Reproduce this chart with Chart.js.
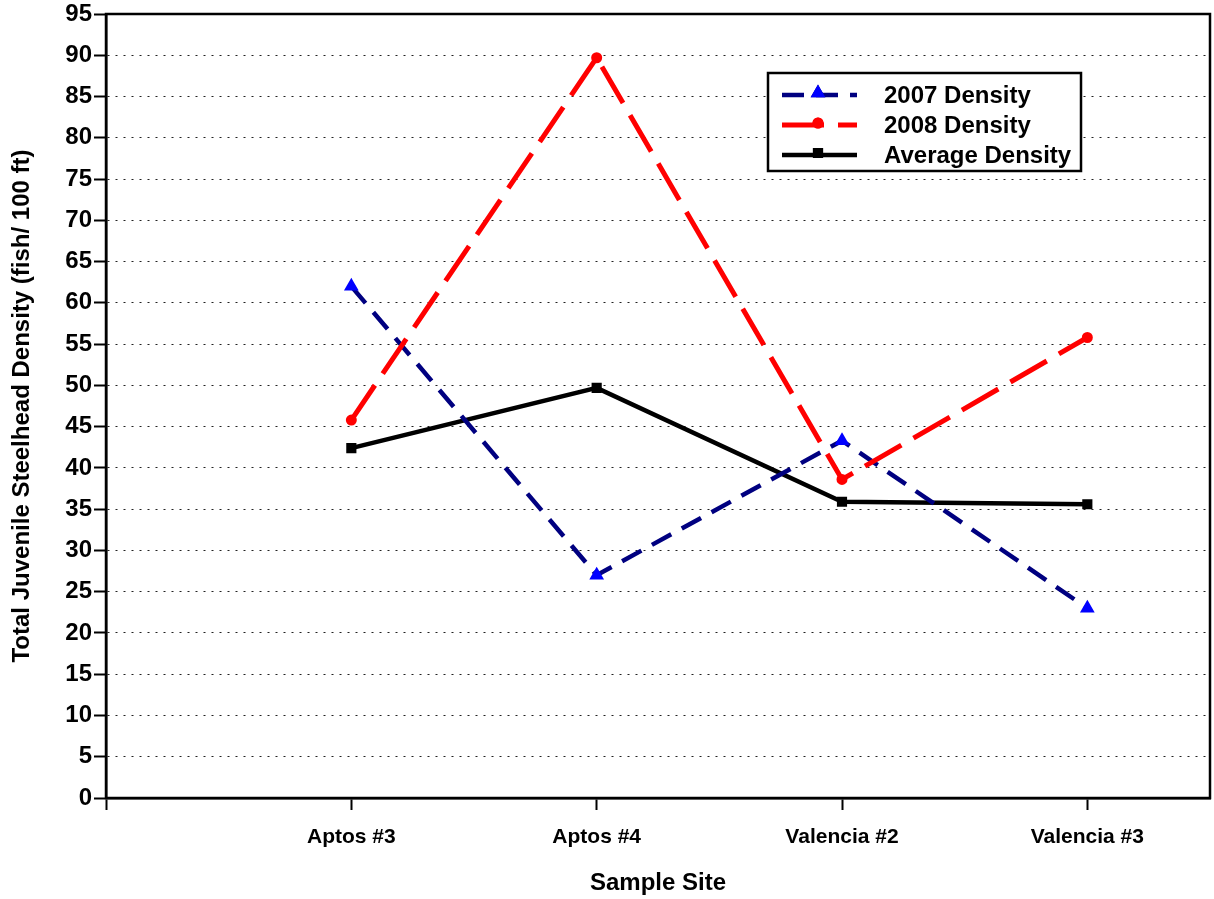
<!DOCTYPE html>
<html>
<head>
<meta charset="utf-8">
<script src="https://cdn.jsdelivr.net/npm/chart.js@4/dist/chart.umd.min.js"></script>
<style>
  body { margin: 0; background: #fff; }
  #wrap { width: 1214px; height: 899px; }
</style>
</head>
<body>
<div id="wrap"><canvas id="densityChart" width="1214" height="899"></canvas></div>
<script>
// sample sites sit at x = 1..4 on the axis, the axis runs 0..4.5
const sites = ["Aptos #3", "Aptos #4", "Valencia #2", "Valencia #3"];
const density2007 = [62.0, 27.0, 43.3, 23.0];
const density2008 = [45.8, 89.7, 38.6, 55.8];
const densityAvg = [42.4, 49.7, 35.9, 35.6];
const seriesNames = ["2007 Density", "2008 Density", "Average Density"];

const FONT = "'Liberation Sans', Arial, sans-serif";

function toPoints(values) {
    return values.map((v, i) => ({ x: i + 1, y: v }));
}

// black frame round the plot area
const framePlugin = {
    id: "frame",
    beforeDatasetsDraw(chart) {
        const { ctx, chartArea: a } = chart;
        ctx.save();
        ctx.strokeStyle = "#000";
        ctx.lineWidth = 2.5;
        ctx.strokeRect(a.left, a.top, a.right - a.left, a.bottom - a.top);
        ctx.restore();
    }
};

// legend box drawn inside the plot, like the original
const boxLegend = {
    id: "boxLegend",
    afterDraw(chart) {
        const ctx = chart.ctx;
        const x = 768, y = 73, w = 313, h = 98;
        ctx.save();
        ctx.fillStyle = "#fff";
        ctx.fillRect(x, y, w, h);
        ctx.strokeStyle = "#000";
        ctx.lineWidth = 2.5;
        ctx.strokeRect(x, y, w, h);
        chart.data.datasets.forEach((ds, i) => {
            const cy = y + 22 + i * 30;
            ctx.strokeStyle = ds.borderColor;
            ctx.lineWidth = ds.borderWidth;
            ctx.setLineDash(ds.borderDash || []);
            ctx.beginPath();
            ctx.moveTo(782, cy);
            ctx.lineTo(857, cy);
            ctx.stroke();
            ctx.setLineDash([]);
            Chart.helpers.drawPoint(ctx, {
                pointStyle: ds.pointStyle,
                radius: ds.pointRadius,
                borderWidth: 1,
                rotation: 0
            }, 818, cy - 2);
            ctx.fillStyle = ds.pointBackgroundColor;
            ctx.strokeStyle = ds.pointBorderColor;
            ctx.fill();
            ctx.stroke();
            ctx.fillStyle = "#000";
            ctx.font = "bold 24px " + FONT;
            ctx.textBaseline = "middle";
            ctx.fillText(ds.label, 884, cy + 1);
        });
        ctx.restore();
    }
};

new Chart(document.getElementById("densityChart"), {
    type: "line",
    data: {
        datasets: [
            {
                label: seriesNames[0],
                data: toPoints(density2007),
                borderColor: "#000080",
                borderWidth: 4.5,
                borderDash: [22, 12],
                pointStyle: "triangle",
                pointRadius: 4,
                pointBackgroundColor: "#0000ff",
                pointBorderColor: "#0000ff",
                order: 2
            },
            {
                label: seriesNames[1],
                data: toPoints(density2008),
                borderColor: "#ff0000",
                borderWidth: 5,
                borderDash: [42, 14],
                pointStyle: "circle",
                pointRadius: 3,
                pointBackgroundColor: "#ff0000",
                pointBorderColor: "#ff0000",
                order: 1
            },
            {
                label: seriesNames[2],
                data: toPoints(densityAvg),
                borderColor: "#000000",
                borderWidth: 4.5,
                pointStyle: "rect",
                pointRadius: 4,
                pointBackgroundColor: "#000000",
                pointBorderColor: "#000000",
                order: 3
            }
        ]
    },
    options: {
        responsive: false,
        animation: false,
        layout: { autoPadding: false, padding: { top: 14, right: 4, left: 0, bottom: 0 } },
        plugins: {
            legend: { display: false },
            tooltip: { enabled: false }
        },
        scales: {
            x: {
                type: "linear",
                min: 0,
                max: 4.5,
                afterFit: s => {
                    s.height = 101;
                    s.paddingLeft = 0;
                    s.paddingRight = 0;
                },
                ticks: {
                    stepSize: 1,
                    includeBounds: false,
                    autoSkip: false,
                    maxRotation: 0,
                    padding: 15,
                    color: "#000",
                    font: { family: FONT, size: 21, weight: "bold" },
                    callback: v => sites[v - 1] || ""
                },
                grid: {
                    drawOnChartArea: false,
                    tickLength: 12,
                    tickColor: "#000",
                    tickWidth: 2
                },
                border: { color: "#000", width: 2.5 },
                title: {
                    display: true,
                    text: "Sample Site",
                    color: "#000",
                    font: { family: FONT, size: 24, weight: "bold" },
                    padding: { top: 0, bottom: 1 }
                }
            },
            y: {
                min: 0,
                max: 95,
                afterFit: s => {
                    s.width = 106;
                    s.paddingTop = 0;
                    s.paddingBottom = 0;
                },
                ticks: {
                    stepSize: 5,
                    padding: 2,
                    color: "#000",
                    font: { family: FONT, size: 24, weight: "bold" }
                },
                grid: {
                    color: "#222",
                    lineWidth: 1,
                    tickLength: 12,
                    tickColor: "#000",
                    tickWidth: 2,
                    tickBorderDash: []
                },
                border: { color: "#000", width: 2.5, dash: [2, 6] },
                title: {
                    display: true,
                    text: "Total Juvenile Steelhead Density (fish/ 100 ft)",
                    color: "#000",
                    font: { family: FONT, size: 24, weight: "bold" },
                    padding: { top: 8, bottom: 0 }
                }
            }
        }
    },
    plugins: [framePlugin, boxLegend]
});
</script>
</body>
</html>
